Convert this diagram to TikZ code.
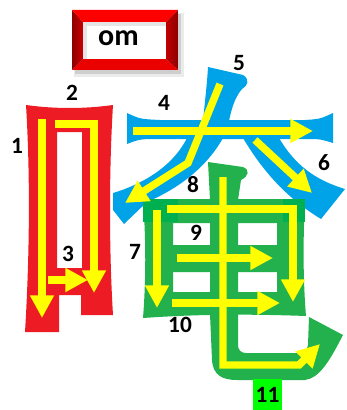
\documentclass[tikz,border=0pt]{standalone}
\usepackage{fontspec}
\setmainfont{Carlito}
\usetikzlibrary{arrows.meta}

\definecolor{kred}{HTML}{ED1C24}
\definecolor{kblue}{HTML}{00A2E8}
\definecolor{kgreen}{HTML}{22B14C}
\definecolor{kdkgreen}{HTML}{00B050}
\definecolor{kyellow}{HTML}{FFFF00}
\definecolor{klime}{HTML}{00FF00}

\begin{document}
\begin{tikzpicture}[
  x=0.75pt, y=-0.75pt,
  yarr/.style={draw=kyellow, line width=5.6pt, line join=miter,
               -{Triangle[length=17pt, width=17pt]}},
  num/.style={font=\fontsize{17.5}{17.5}\selectfont\bfseries, inner sep=0pt},
]
\useasboundingbox (0,0) rectangle (346,410);

% title frame
\fill[black, opacity=0.08] (74,13) rectangle (184,77);
\fill[black, opacity=0.12] (75,14) rectangle (181,74);
\shade[left color=red!55!black, right color=red!80!black]
  (72,10) -- (83,22) -- (83,59) -- (72,70) -- cycle;
\fill[red] (72,10) -- (178,10) -- (166,22) -- (83,22) -- cycle;
\shade[left color=red!75!black, right color=red!55!black]
  (178,10) -- (178,70) -- (166,59) -- (166,22) -- cycle;
\fill[red!92!black] (72,70) -- (83,59) -- (166,59) -- (178,70) -- cycle;
\fill[white] (83,22) rectangle (166,59);
\fill[black, opacity=0.10] (83,22) rectangle (166,26);
\fill[black, opacity=0.10] (83,26) rectangle (87,59);
\node[font=\fontsize{22.5}{22.5}\selectfont\bfseries, inner sep=0pt] (title) at (118.5,38.5) {om};

% red radical
\fill[kred, even odd rule] (26,105) .. controls (55,109) and (84,109) .. (113,105)
  .. controls (109,170) and (109,250) .. (113,315) -- (81,315) -- (81,295)
  -- (59,295) -- (59,332) -- (25,332)
  .. controls (30,250) and (30,170) .. (26,105) -- cycle
  (57,132) rectangle (82,268);

% blue part
\fill[kblue] (127,113) .. controls (140,119) .. (160,120) -- (305,120)
  .. controls (320,119) .. (333,113) -- (333,143) .. controls (320,139) .. (305,139)
  -- (160,139) .. controls (140,139) .. (127,144) -- cycle;
\fill[kblue] (208,67) -- (243,75) .. controls (250,79) and (248,86) .. (242,89)
  .. controls (236,96) and (232,106) .. (229,121) -- (203,121)
  .. controls (205,100) and (207,85) .. (208,67) -- cycle;
\fill[kblue] (187,138) -- (223,138) .. controls (205,170) and (175,190) .. (147,202)
  -- (124,224) -- (113,210) -- (113,193)
  .. controls (140,185) and (172,168) .. (187,138) -- cycle;
\fill[kblue] (243,138) .. controls (265,175) and (290,200) .. (321,219)
  -- (345,189) .. controls (315,180) and (295,165) .. (279,138) -- cycle;

% green part
\fill[kgreen, even odd rule] (143,199) -- (305,199)
  .. controls (303,240) and (303,280) .. (306,316)
  .. controls (250,314) and (200,314) .. (143,318)
  .. controls (146,280) and (146,240) .. (143,199) -- cycle
  (173,223) rectangle (210,245) (238,223) rectangle (277,245)
  (173,272) rectangle (210,292) (238,272) rectangle (277,292);
\fill[kgreen] (208,162) -- (243,167) .. controls (250,170) and (249,176) .. (241,180)
  -- (238,200) -- (210,200) -- cycle;
\fill[kgreen] (210,314) -- (212,360) .. controls (213,375) and (222,380) .. (237,380)
  -- (305,380) .. controls (320,378) and (330,360) .. (343,335) -- (309,317)
  -- (308,345) .. controls (307,350) and (304,353) .. (299,353) -- (246,353)
  .. controls (241,353) and (238,350) .. (238,345) -- (238,314) -- cycle;
\fill[kdkgreen] (143,199) rectangle (178,222);
\fill[kdkgreen] (283,199) rectangle (305,222);

% stroke arrows
\draw[yarr] (42,119) -- (42,318);
\draw[yarr] (55,124) -- (94,124) -- (94,293);
\draw[yarr] (48,280) -- (88,280);
\draw[yarr] (133,131) -- (313,131);
\draw[yarr] (220,84) -- (188,163) -- (125,203);
\draw[yarr] (255,140) -- (312,193);
\draw[yarr] (157,210) -- (157,308);
\draw[yarr] (167,209) -- (293,209) -- (293,302);
\draw[yarr] (177,258) -- (273,258);
\draw[yarr] (172,303) -- (280,303);
\draw[yarr] (223,177) -- (223,365) -- (299,365) -- (320,344);

% numbers
\node[num] (n1) at (17,146) {1};
\node[num] (n2) at (72,93) {2};
\node[num] (n3) at (68,254) {3};
\node[num] (n4) at (164,103) {4};
\node[num] (n5) at (239,63) {5};
\node[num] (n6) at (324,163) {6};
\node[num] (n7) at (135,252) {7};
\node[num] (n8) at (193,185) {8};
\node[num] (n9) at (196,233) {9};
\node[num] (n10) at (180,325) {10};
\node[num, fill=klime, minimum width=21.75pt, minimum height=23.25pt] (n11) at (267.5,394.5) {11};

\end{tikzpicture}
\end{document}
